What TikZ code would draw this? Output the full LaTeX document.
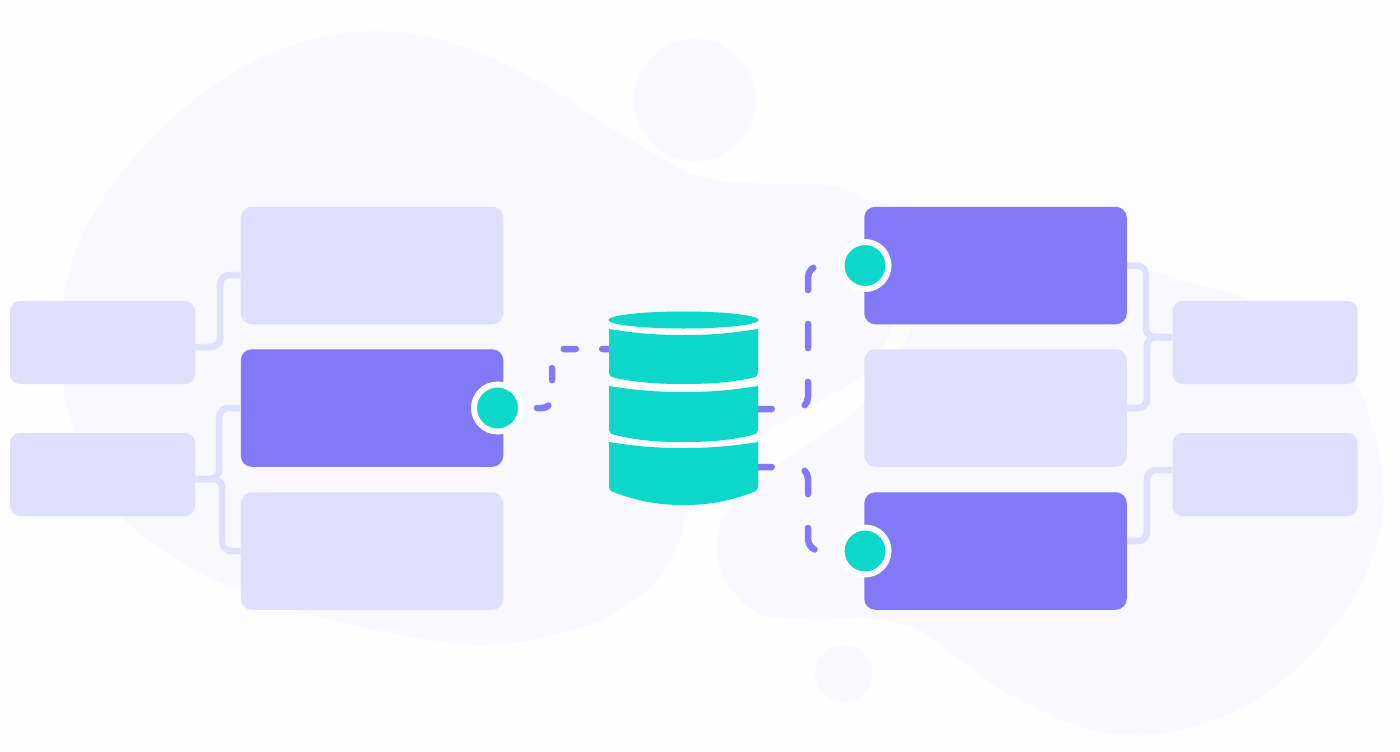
\documentclass[tikz,border=0pt]{standalone}
\usepackage{tikz}
\usepackage{xcolor}
\usetikzlibrary{arrows.meta, positioning, shapes.geometric}
\definecolor{paper}{HTML}{FDFDFE}
\definecolor{haze}{HTML}{F8F8FE}
\definecolor{lilac}{HTML}{E0E0FC}
\definecolor{violet}{HTML}{8179F5}
\definecolor{mint}{HTML}{0BD8C8}

\begin{document}
\begin{tikzpicture}[
      x=1pt, y=-1pt,
      small/.style={rectangle, fill=lilac, rounded corners=10pt, inner sep=0pt,
                    minimum width=185pt, minimum height=83pt},
      big/.style={rectangle, fill=lilac, rounded corners=11pt, inner sep=0pt,
                  minimum width=262.5pt, minimum height=117.5pt},
      active/.style={big, fill=violet},
      hub/.style={circle, fill=mint, draw=white, line width=6pt, inner sep=0pt,
                  minimum size=47pt},
      link/.style={lilac, line width=6.5pt, rounded corners=9pt},
      near/.style={violet, line width=6.5pt, line cap=round, rounded corners=10pt,
                   dash pattern=on 12pt off 26.5pt, dash phase=5.25pt},
      far/.style={violet, line width=6.5pt, line cap=round, rounded corners=12pt,
                  dash pattern=on 24pt off 34pt, dash phase=10.25pt},
      tier/.style={fill=mint}
    ]
    % Backdrop
    \fill[paper] (0,0) rectangle (1400,752);
    \fill[haze] plot[smooth cycle, tension=0.6] coordinates {
      (62,350) (63,300) (78,245) (110,188) (160,130) (222,80) (288,47) (357,32) (424,36)
      (491,58) (558,93) (603,123) (647,150) (700,177) (770,184) (834,186) (880,203)
      (1000,225) (1126,263) (1191,283) (1249,300) (1310,345) (1356,386) (1370,419)
      (1379,453) (1383,489) (1381,526) (1365,576) (1335,625) (1298,667) (1252,702)
      (1195,726) (1137,735) (1079,726) (1012,696) (968,666) (923,633) (879,619)
      (807,619) (758,613) (727,583) (717,549) (727,513) (780,463) (865,403) (901,347)
      (925,300) (905,300) (892,327) (883,347) (861,376) (807,409) (758,439) (693,507)
      (680,540) (655,582) (603,619) (536,639) (482,645) (424,639) (357,626) (290,609)
      (245,592) (201,573) (160,548) (124,519) (90,465) (67,409)};
    \fill[haze] (695,100) circle[radius=61pt];
    \fill[haze] (843.5,673.5) circle[radius=28.5pt];

    % Left block
    \node[small] (srcA) at (102.5,342.5) {};
    \node[small] (srcB) at (102.5,474.5) {};
    \node[big] (inA) at (372,265.5) {};
    \node[active] (inB) at (372,408) {};
    \node[big] (inC) at (372,551) {};

    % Right block
    \node[active] (outA) at (995.5,265.5) {};
    \node[big] (outB) at (995.5,408) {};
    \node[active] (outC) at (995.5,551) {};
    \node[small] (dstA) at (1265,342.5) {};
    \node[small] (dstB) at (1265,474.5) {};

    % Hubs
    \node[hub] (hubIn) at (497.5,408) {};
    \node[hub] (hubUp) at (865,265.5) {};
    \node[hub] (hubDown) at (865,551) {};

    % Database ports
    \coordinate (dbTop) at (609,349);
    \coordinate (dbMid) at (758,409);
    \coordinate (dbLow) at (758,467);

    \draw[link] ([yshift=-4.5pt]srcA.east) -- ++(25,0) |- ([yshift=-9.5pt]inA.west);
    \draw[link] ([yshift=-4.5pt]srcB.east) -- ++(24,0) |- (inB.west);
    \draw[link] ([yshift=-4.5pt]srcB.east) -- ++(27,0) |- (inC.west);
    \draw[link] (outA.east) -- ++(19,0) |- ([yshift=5.5pt]dstA.west);
    \draw[link] (outB.east) -- ++(20,0) |- ([yshift=5.5pt]dstA.west);
    \draw[link] ([yshift=10pt]outC.east) -- ++(20,0) |- ([yshift=4.5pt]dstB.west);

    \draw[near] (dbTop) -| (552,380) |- (hubIn.east);
    \draw[far] (dbMid) -| (808,340) |- (hubUp.west);
    \draw[far] (dbLow) -| (808,500) |- (hubDown.west);

    % Database
    \fill[white] (609,325) rectangle (758,445);
    \fill[mint] (683.5,320) ellipse (75 and 8.5);
    \fill[tier] (609,329) .. controls (640,334) and (660,335) .. (683.5,335)
      .. controls (707,335) and (727,334) .. (758,329) -- (758,372)
      .. controls (758,376) and (755,378) .. (752,378)
      .. controls (727,383) and (707,384) .. (683.5,384)
      .. controls (660,384) and (640,383) .. (615,378)
      .. controls (612,378) and (609,376) .. (609,372) -- cycle;
    \fill[tier] (609,386) .. controls (640,391) and (660,392) .. (683.5,392)
      .. controls (707,392) and (727,391) .. (758,386) -- (758,430)
      .. controls (758,433) and (755,435) .. (752,435)
      .. controls (727,441) and (707,442) .. (683.5,442)
      .. controls (660,442) and (640,441) .. (615,435)
      .. controls (612,435) and (609,433) .. (609,430) -- cycle;
    \fill[tier] (609,442) .. controls (640,447) and (660,448) .. (683.5,448)
      .. controls (707,448) and (727,447) .. (758,442) -- (758,487)
      .. controls (758,490) and (756,491) .. (754,492)
      .. controls (727,502) and (707,505) .. (683.5,505)
      .. controls (660,505) and (640,502) .. (613,492)
      .. controls (611,491) and (609,490) .. (609,487) -- cycle;
  \end{tikzpicture}
\end{document}
